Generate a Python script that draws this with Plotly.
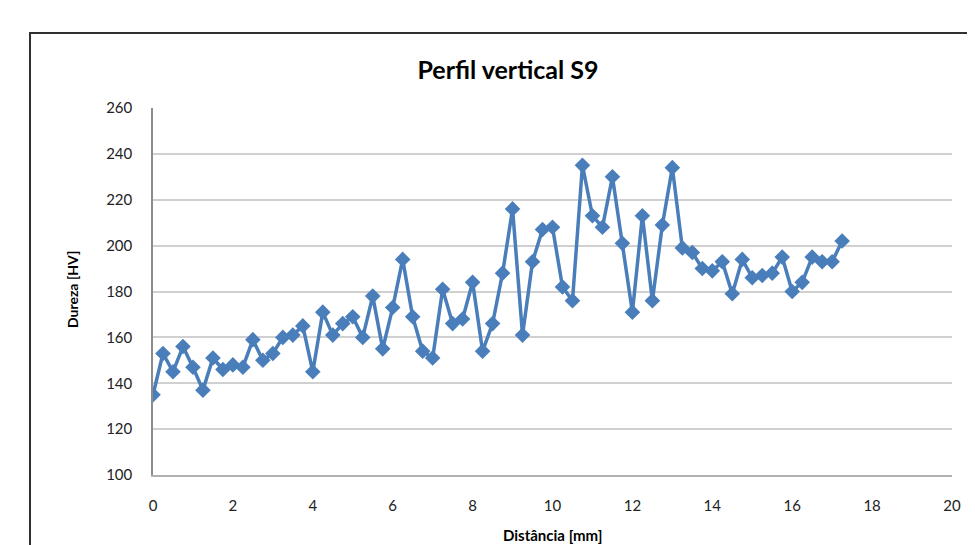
import plotly.graph_objects as go

distancia = [0, 0.25, 0.5, 0.75, 1, 1.25, 1.5, 1.75, 2, 2.25, 2.5, 2.75, 3, 3.25, 3.5, 3.75,
             4, 4.25, 4.5, 4.75, 5, 5.25, 5.5, 5.75, 6, 6.25, 6.5, 6.75, 7, 7.25, 7.5, 7.75,
             8, 8.25, 8.5, 8.75, 9, 9.25, 9.5, 9.75, 10, 10.25, 10.5, 10.75, 11, 11.25, 11.5, 11.75,
             12, 12.25, 12.5, 12.75, 13, 13.25, 13.5, 13.75, 14, 14.25, 14.5, 14.75, 15, 15.25, 15.5, 15.75,
             16, 16.25, 16.5, 16.75, 17, 17.25]
dureza = [135, 153, 145, 156, 147, 137, 151, 146, 148, 147, 159, 150, 153, 160, 161, 165,
          145, 171, 161, 166, 169, 160, 178, 155, 173, 194, 169, 154, 151, 181, 166, 168,
          184, 154, 166, 188, 216, 161, 193, 207, 208, 182, 176, 235, 213, 208, 230, 201,
          171, 213, 176, 209, 234, 199, 197, 190, 189, 193, 179, 194, 186, 187, 188, 195,
          180, 184, 195, 193, 193, 202]

x_ticks = [0, 2, 4, 6, 8, 10, 12, 14, 16, 18, 20]
y_ticks = [100, 120, 140, 160, 180, 200, 220, 240, 260]

# page body has an 8px margin; compensate so the figure lines up with the window
OFF = 8
W, H = 975 - OFF, 545 - OFF
L, R, T, B = 153 - OFF, 23, 108 - OFF, 70
pw, ph = W - L - R, H - T - B

fig = go.Figure()
fig.add_trace(go.Scatter(
    x=distancia, y=dureza, mode="lines+markers",
    line=dict(color="#4a7ebb", width=3.5),
    marker=dict(symbol="diamond", size=12, color="#4a7ebb"),
    showlegend=False,
))

font_family = "Lato, 'Open Sans', sans-serif"

fig.update_layout(
    width=W, height=H,
    margin=dict(l=L, r=R, t=T, b=B, autoexpand=False),
    paper_bgcolor="white", plot_bgcolor="white",
    title=dict(text="<b>Perfil vertical S9</b>", x=(508 - OFF) / W, xanchor="center",
               y=1 - (70 - OFF) / H, yanchor="middle",
               font=dict(family=font_family, size=25, color="black")),
    font=dict(family=font_family, color="black"),
    xaxis=dict(range=[0, 20], tickvals=x_ticks, showgrid=False, zeroline=False, automargin=False,
               showline=True, linecolor="#b0b0b0", linewidth=1.5, ticks="", ticklabelstandoff=16,
               tickfont=dict(size=15, color="#222")),
    yaxis=dict(range=[100, 260], tickvals=y_ticks, showgrid=True, gridcolor="#d0d0d0",
               gridwidth=1.5, zeroline=False, showline=True, linecolor="#8c8c8c", linewidth=1.5,
               automargin=False,
               ticks="", ticklabelstandoff=16, tickfont=dict(size=15, color="#222")),
    annotations=[
        dict(text="<b>Distância [mm]</b>", xref="paper", yref="paper",
             x=0.5, y=(475 - 535) / ph, xanchor="center", yanchor="middle",
             showarrow=False, font=dict(size=15, color="black")),
        dict(text="<b>Dureza [HV]</b>", xref="paper", yref="paper",
             x=(72 - 153) / pw, y=(475 - 290) / ph, xanchor="center", yanchor="middle",
             textangle=-90, showarrow=False, font=dict(size=14, color="black")),
    ],
    shapes=[dict(type="rect", xref="paper", yref="paper",
                 x0=(30 - 153) / pw, x1=(990 - 153) / pw,
                 y0=(475 - 560) / ph, y1=(475 - 33) / ph,
                 line=dict(color="#303030", width=2), fillcolor="rgba(0,0,0,0)",
                 layer="below")],
)

fig.write_html("out.html")
